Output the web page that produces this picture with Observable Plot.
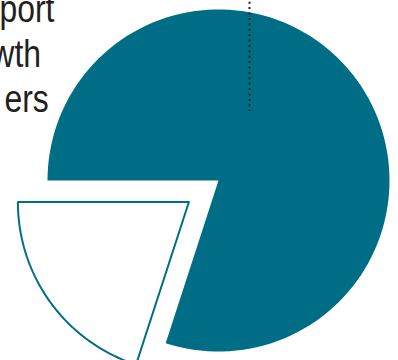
<!DOCTYPE html>
<html>
<head>
<meta charset="utf-8">
<script src="https://cdn.jsdelivr.net/npm/d3@7"></script>
<script src="https://cdn.jsdelivr.net/npm/@observablehq/plot@0.6"></script>
<style>
  html, body { margin: 0; padding: 0; background: #fff; overflow: hidden; }
  #chart svg { display: block; }
</style>
</head>
<body>
<div id="chart"></div>
<script>
// ---- data ----
const categories = ["Main share", "Other share"];
const values = [80, 20];
const explodedCategory = "Other share";
const labelLines = ["port", "wth", "ers"];

// ---- layout (in units of the pie radius) ----
const R = 171;                       // pixel radius
const W = 398, H = 360;
const cxPx = 218, cyPx = 180;
const xDomain = [-cxPx / R, (W - cxPx) / R];
const yDomain = [-(H - cyPx) / R, cyPx / R];
const explode = 0.214;

const pie = d3.pie().sort(null).value(d => d.value)
  .startAngle(-Math.PI / 2).endAngle(1.5 * Math.PI);
const arcs = pie(categories.map((c, i) => ({category: c, value: values[i]})));

const points = [];
for (const a of arcs) {
  const mid = (a.startAngle + a.endAngle) / 2;
  const off = a.data.category === explodedCategory ? explode : 0;
  const ox = off * Math.sin(mid), oy = off * Math.cos(mid);
  const pts = [{x: ox, y: oy}];
  const n = 120;
  for (let k = 0; k <= n; k++) {
    const t = a.startAngle + (a.endAngle - a.startAngle) * k / n;
    pts.push({x: ox + Math.sin(t), y: oy + Math.cos(t)});
  }
  pts.push({x: ox, y: oy});
  for (const p of pts) points.push({...p, category: a.data.category});
}

// annotations
const px = v => (v - cxPx) / R, py = v => (cyPx - v) / R;
const leader = [{x: px(249), y1: py(1.7), y2: py(111)}];
const labelRows = labelLines.map((t, i) => ({
  text: t,
  x: px([-1, -9, 4][i]),
  y: py([21, 66, 111][i])
}));

const teal = "#006d86";

const chart = Plot.plot({
  width: W, height: H, margin: 0,
  x: {domain: xDomain, axis: null},
  y: {domain: yDomain, axis: null},
  marks: [
    Plot.line(points.filter(d => d.category !== explodedCategory),
      {x: "x", y: "y", fill: teal, stroke: "none", curve: "linear"}),
    Plot.line(points.filter(d => d.category === explodedCategory),
      {x: "x", y: "y", fill: "white", stroke: teal, strokeWidth: 2, strokeLinejoin: "miter", curve: "linear"}),
    Plot.ruleX(leader, {x: "x", y1: "y1", y2: "y2", stroke: "#222", strokeWidth: 2, strokeDasharray: "2,3.4"}),
    Plot.text(labelRows, {x: "x", y: "y", text: "text", textAnchor: "start", lineAnchor: "bottom",
      fontSize: 38, fill: "#231f20", fontFamily: "'Liberation Sans', Arial, Helvetica, sans-serif"})
  ]
});
document.getElementById("chart").appendChild(chart);

// condense the label glyphs horizontally (reference uses a narrower face)
chart.querySelectorAll("text").forEach(t => {
  const b = t.getBBox();
  const prev = t.getAttribute("transform") || "";
  t.setAttribute("transform", `${prev} translate(${b.x},0) scale(0.84,1) translate(${-b.x},0)`.trim());
});
</script>
</body>
</html>
